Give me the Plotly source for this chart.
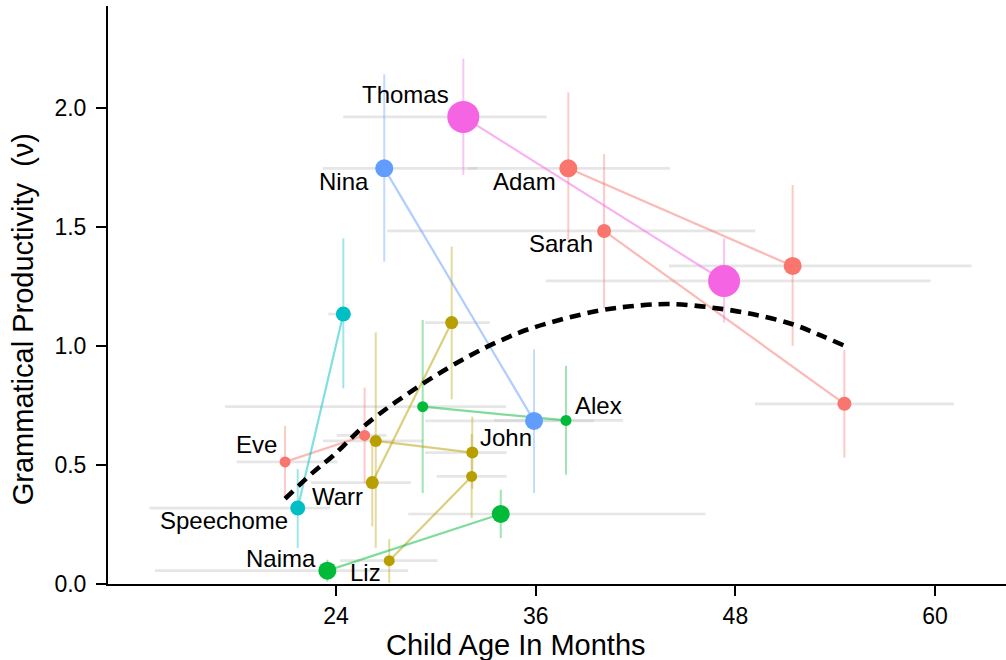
import plotly.graph_objects as go

# ---------------- data ----------------
children = ["Adam", "Sarah", "Eve", "Warr", "John", "Liz", "Alex", "Naima", "Speechome", "Nina", "Thomas"]
corpus = ["Brown", "Brown", "Brown", "Other", "Other", "Other", "Providence", "Providence", "Speechome", "Suppes", "Thomas"]

age_1 = [37.96, 40.11, 20.94, 26.18, 26.39, 27.20, 29.21, 23.48, 21.70, 26.90, 31.65]
age_2 = [51.44, 54.55, 25.72, 30.95, 32.19, 32.15, 37.82, 33.90, 24.44, 35.90, 47.32]
prod_1 = [1.746, 1.483, 0.513, 0.426, 0.601, 0.098, 0.745, 0.056, 0.319, 1.746, 1.962]
prod_2 = [1.336, 0.757, 0.624, 1.098, 0.552, 0.452, 0.687, 0.294, 1.134, 0.685, 1.273]

prod_lo_1 = [1.445, 1.158, 0.362, 0.242, 0.152, 0.005, 0.382, 0.010, 0.151, 1.354, 1.718]
prod_hi_1 = [2.065, 1.806, 0.664, 0.610, 1.057, 0.189, 1.109, 0.102, 0.483, 2.141, 2.207]
prod_lo_2 = [1.000, 0.531, 0.424, 0.776, 0.400, 0.277, 0.459, 0.193, 0.822, 0.382, 1.098]
prod_hi_2 = [1.676, 0.983, 0.825, 1.417, 0.703, 0.630, 0.916, 0.396, 1.452, 0.986, 1.452]

age_lo_1 = [31.90, 27.08, 18.03, 22.50, 23.22, 24.24, 17.33, 13.12, 12.79, 23.20, 24.44]
age_hi_1 = [44.07, 49.20, 24.08, 28.50, 29.23, 30.10, 34.22, 28.34, 23.64, 32.50, 36.66]
age_lo_2 = [44.01, 49.18, 24.04, 29.35, 29.35, 30.05, 33.50, 28.34, 23.54, 29.35, 36.60]
age_hi_2 = [62.20, 61.14, 27.04, 33.25, 34.26, 34.26, 41.25, 46.20, 24.94, 39.50, 59.73]

fit_age = [20.94, 22.64, 23.84, 25.84, 29.05, 31.85, 33.86, 35.86, 39.87, 42.27, 44.07, 46.48, 49.08, 51.48, 53.09, 54.55]
fit_prod = [0.358, 0.470, 0.540, 0.672, 0.834, 0.952, 1.022, 1.077, 1.149, 1.170, 1.176, 1.162, 1.133, 1.090, 1.045, 1.001]

x_ticks = [24, 36, 48, 60]
y_ticks = [0.0, 0.5, 1.0, 1.5, 2.0]
y_tick_labels = ["0.0", "0.5", "1.0", "1.5", "2.0"]

x_title = "Child Age In Months"
y_title = "Grammatical Productivity\u00a0\u00a0(\u03bd)"

# ---------------- style ----------------
corpus_color = {
    "Brown": (248, 118, 109),
    "Other": (183, 159, 0),
    "Providence": (0, 186, 56),
    "Speechome": (0, 191, 196),
    "Suppes": (97, 156, 255),
    "Thomas": (245, 100, 227),
}
marker_px = {"Adam": 18, "Sarah": 14, "Eve": 11, "Warr": 13, "John": 12, "Liz": 11,
             "Alex": 11, "Naima": 18, "Speechome": 15, "Nina": 18, "Thomas": 32}
# label: which point (1 or 2), anchor side, x shift, y shift (px)
label_pos = {
    "Thomas": (1, "right", -12, 22), "Nina": (1, "right", -13, -13),
    "Adam": (1, "right", -10, -13), "Sarah": (1, "right", -9, -13),
    "Eve": (1, "right", -6, 17), "Speechome": (1, "right", -8, -12),
    "Naima": (1, "right", -9, 12), "Liz": (1, "right", -6, -12),
    "Warr": (1, "right", -7, -14), "John": (2, "left", 6, 15),
    "Alex": (2, "left", 7, 15),
}
FONT = "Liberation Sans, Arial, Helvetica, sans-serif"


def rgba(c, a):
    return "rgba(%d,%d,%d,%.2f)" % (c[0], c[1], c[2], a)


fig = go.Figure()

# horizontal (age) error bars, grey
for i, ch in enumerate(children):
    fig.add_trace(go.Scatter(
        x=[age_1[i], age_2[i]], y=[prod_1[i], prod_2[i]], mode="markers",
        marker=dict(size=1, opacity=0), hoverinfo="skip", showlegend=False,
        error_x=dict(type="data", symmetric=False,
                     array=[age_hi_1[i] - age_1[i], age_hi_2[i] - age_2[i]],
                     arrayminus=[age_1[i] - age_lo_1[i], age_2[i] - age_lo_2[i]],
                     color="rgba(200,200,200,0.45)", thickness=2.7, width=0)))

# vertical (productivity) error bars, coloured
for i, ch in enumerate(children):
    c = corpus_color[corpus[i]]
    fig.add_trace(go.Scatter(
        x=[age_1[i], age_2[i]], y=[prod_1[i], prod_2[i]], mode="markers",
        marker=dict(size=1, opacity=0), hoverinfo="skip", showlegend=False,
        error_y=dict(type="data", symmetric=False,
                     array=[prod_hi_1[i] - prod_1[i], prod_hi_2[i] - prod_2[i]],
                     arrayminus=[prod_1[i] - prod_lo_1[i], prod_2[i] - prod_lo_2[i]],
                     color=rgba(c, 0.38), thickness=2, width=0)))

# connecting lines
for i, ch in enumerate(children):
    c = corpus_color[corpus[i]]
    fig.add_trace(go.Scatter(
        x=[age_1[i], age_2[i]], y=[prod_1[i], prod_2[i]], mode="lines",
        line=dict(color=rgba(c, 0.5), width=2.2), hoverinfo="skip", showlegend=False))

# fitted curve
fig.add_trace(go.Scatter(
    x=fit_age, y=fit_prod, mode="lines",
    line=dict(color="black", width=4.6, dash="11px,7px", shape="spline"),
    hoverinfo="skip", showlegend=False))

# points
for i, ch in enumerate(children):
    c = corpus_color[corpus[i]]
    fig.add_trace(go.Scatter(
        x=[age_1[i], age_2[i]], y=[prod_1[i], prod_2[i]], mode="markers", name=ch,
        marker=dict(color=rgba(c, 1), size=marker_px[ch], line=dict(width=0)),
        showlegend=False))

# child labels
for i, ch in enumerate(children):
    which, side, dx, dy = label_pos[ch]
    x = age_1[i] if which == 1 else age_2[i]
    y = prod_1[i] if which == 1 else prod_2[i]
    fig.add_annotation(x=x, y=y, text=ch, showarrow=False, xanchor=side, yanchor="middle",
                       xshift=dx, yshift=dy, font=dict(family=FONT, size=24, color="black"))

# axis titles (placed as in the reference, which is not centred on the panel)
fig.add_annotation(xref="paper", yref="paper", x=0.4543, y=0, xanchor="center", yanchor="middle",
                   yshift=-61, text=x_title, showarrow=False,
                   font=dict(family=FONT, size=29, color="black"))
fig.add_annotation(xref="paper", yref="paper", x=0, y=0.458, xanchor="center", yanchor="middle",
                   xshift=-85, textangle=-90, text=y_title, showarrow=False,
                   font=dict(family=FONT, size=29, color="black"))

fig.update_layout(
    width=1006, height=660,
    margin=dict(l=108, r=0, t=6, b=76),
    paper_bgcolor="white", plot_bgcolor="white",
    font=dict(family=FONT, color="black"),
    showlegend=False,
)
fig.update_xaxes(
    range=[10.30, 64.26], tickvals=x_ticks, ticktext=[str(t) for t in x_ticks],
    showgrid=False, zeroline=False, showline=True, linecolor="black", linewidth=2,
    ticks="outside", ticklen=10, tickwidth=2, tickcolor="black",
    tickfont=dict(family=FONT, size=23, color="black"),
)
fig.update_yaxes(
    range=[0, 2.428], tickvals=y_ticks, ticktext=y_tick_labels,
    showgrid=False, zeroline=False, showline=True, linecolor="black", linewidth=2,
    ticks="outside", ticklen=10, tickwidth=2, tickcolor="black", ticklabelstandoff=5,
    tickfont=dict(family=FONT, size=23, color="black"),
)

fig.write_html("out.html", config={"displayModeBar": False},
               post_script="document.body.style.margin='0';document.body.style.overflow='hidden';")
